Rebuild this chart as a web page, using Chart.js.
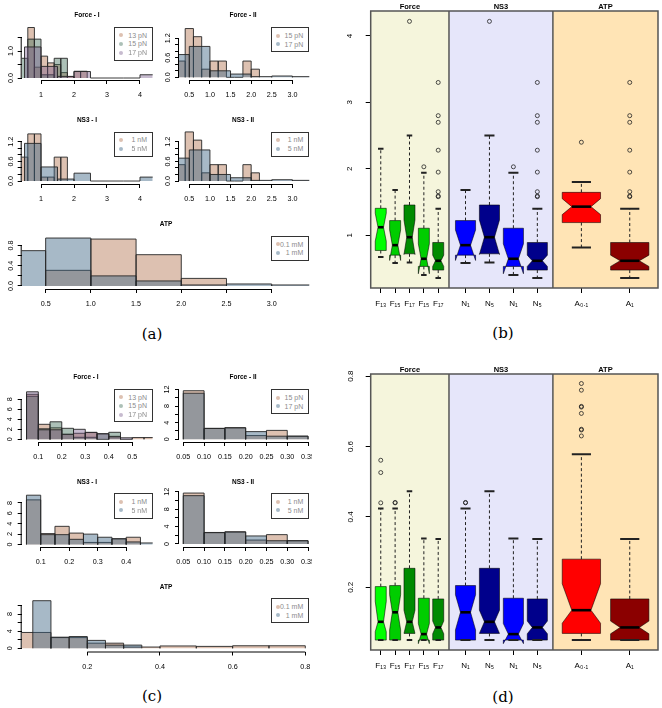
<!DOCTYPE html>
<html>
<head>
<meta charset="utf-8">
<script src="https://cdn.jsdelivr.net/npm/chart.js@4.4.1/dist/chart.umd.min.js"></script>
<style>
  body { margin: 0; background: #fff; width: 662px; height: 708px; position: relative; overflow: hidden;
         font-family: "Liberation Sans", Arial, sans-serif; }
  canvas { position: absolute; }
  .t { position: absolute; font-weight: bold; font-size: 6.5px; color: #000; transform: translate(-50%, -50%);
       white-space: nowrap; will-change: transform; -webkit-font-smoothing: antialiased; }
  .cap { position: absolute; font-family: "DejaVu Serif", "Liberation Serif", serif; font-size: 15px; transform: translate(-50%, -50%); }
  .lg { position: absolute; border: 1px solid #333; background: #fff; box-sizing: border-box; font-size: 7px; color: #8c8c8c; }
  .lg .row { position: absolute; left: 0; right: 0; height: 9px; }
  .lg .dot { position: absolute; left: 4px; top: 2.5px; width: 4px; height: 4px; border-radius: 50%; }
  .lg .txt { position: absolute; right: 5px; top: 0; line-height: 9px; white-space: nowrap; }
</style>
</head>
<body>
<script>
// ---------- histogram data: bin edges + densities ----------
// (a) Force - I
const aF1E13 = [0.6, 0.8, 1.0, 1.2, 1.4, 1.6, 1.8, 2.0, 2.2, 2.4];
const aF1D13 = [1.87, 0.40, 0.81, 0.56, 0.50, 0.20, 0.05, 0.25, 0.25];
const aF1E15 = [0.4, 0.6, 0.8, 1.0, 1.2, 1.4, 1.6, 1.8];
const aF1D15 = [0.73, 1.44, 1.44, 0.12, 0.12, 0.73, 0.73];
const aF1E17 = [0.5, 1.0, 1.5, 2.0, 2.5, 3.0, 3.5, 4.0, 4.5];
const aF1D17 = [1.15, 0.43, 0.06, 0.24, 0, 0, 0, 0.12];
// (a) Force - II
const aF2E15 = [0.2, 0.4, 0.6, 0.8, 1.0, 1.2, 1.4, 1.6, 1.8, 2.0, 2.2];
const aF2D15 = [0.5, 1.5, 1.25, 0.25, 0.5, 0.5, 0, 0, 0.5, 0.25];
const aF2E17 = [0, 0.5, 1.0, 1.5, 2.0, 2.5, 3.0, 3.5];
const aF2D17 = [0.7, 0.95, 0.2, 0.1, 0.02, 0.04, 0.02];
// (a) ATP 0.1 mM
const aAE01 = [0.5, 1.0, 1.5, 2.0, 2.5];
const aAD01 = [0.31, 0.93, 0.62, 0.15];
// (c) Force - I
const cF1E13 = [0.05, 0.1, 0.15, 0.2, 0.25, 0.3, 0.35, 0.4, 0.45, 0.5, 0.55, 0.6];
const cF1D13 = [9.0, 3.0, 2.3, 1.0, 1.2, 1.35, 0, 0.6, 0, 0.35, 0.35];
const cF1E15 = [0.05, 0.1, 0.15, 0.2, 0.25, 0.3, 0.35, 0.4, 0.45];
const cF1D15 = [8.6, 2.1, 3.5, 2.2, 0.4, 0.4, 1.1, 1.4];
const cF1E17 = [0.05, 0.1, 0.15, 0.2, 0.25, 0.3, 0.35, 0.4, 0.45, 0.5];
const cF1D17 = [9.5, 1.9, 1.9, 1.0, 2.0, 1.4, 1.1, 0.5, 0.3];
// (c) Force - II
const cF2E15 = [0.05, 0.1, 0.15, 0.2, 0.25, 0.3, 0.35];
const cF2D15 = [11.7, 2.65, 2.8, 0.9, 2.15, 0.75];
const cF2E17 = [0.05, 0.1, 0.15, 0.2, 0.25, 0.3, 0.35];
const cF2D17 = [11.1, 2.6, 2.75, 1.85, 0.75, 0.75];
// (c) ATP 0.1 mM
const cAE01 = [0, 0.1, 0.2, 0.3, 0.4, 0.5, 0.6, 0.7, 0.8];
const cAD01 = [3.7, 2.5, 1.2, 0.3, 0.55, 0.45, 0.6, 0.6];

// ---------- histogram ticks ----------
const aF1X = [1, 2, 3, 4];            const aF1XL = ['1', '2', '3', '4'];
const aF1Y = [0, 0.5, 1, 1.5];        const aF1YL = ['0.0', '', '1.0', ''];
const aF2X = [0.5, 1, 1.5, 2, 2.5, 3]; const aF2XL = ['0.5', '1.0', '1.5', '2.0', '2.5', '3.0'];
const aF2Y = [0, 0.2, 0.4, 0.6, 0.8, 1.0, 1.2]; const aF2YL = ['0.0', '', '', '0.6', '', '', '1.2'];
const aAY = [0, 0.2, 0.4, 0.6, 0.8];  const aAYL = ['0.0', '', '0.4', '', '0.8'];
const cF1X = [0.1, 0.2, 0.3, 0.4, 0.5]; const cF1XL = ['0.1', '0.2', '0.3', '0.4', '0.5'];
const cF1Y = [0, 2, 4, 6, 8];         const cF1YL = ['0', '2', '4', '6', '8'];
const cF2X = [0.05, 0.1, 0.15, 0.2, 0.25, 0.3, 0.35];
const cF2XL = ['0.05', '0.10', '0.15', '0.20', '0.25', '0.30', '0.35'];
const cF2Y = [0, 2, 4, 6, 8, 10, 12]; const cF2YL = ['0', '', '4', '', '8', '', '12'];
const cN1X = [0.1, 0.2, 0.3, 0.4];    const cN1XL = ['0.1', '0.2', '0.3', '0.4'];
const cAX = [0.2, 0.4, 0.6, 0.8];     const cAXL = ['0.2', '0.4', '0.6', '0.8'];
const cAY = [0, 2, 4, 6, 8, 10];      const cAYL = ['0', '', '4', '', '8', ''];

// ---------- boxplot data ----------
const boxLabels = ['F₁₃', 'F₁₅', 'F₁₇', 'F₁₅', 'F₁₇', 'N₁', 'N₅', 'N₁', 'N₅', 'A₀.₁', 'A₁'];
const groupNames = ['Force', 'NS3', 'ATP'];
// (b)
const bLo  = [0.67, 0.58, 0.59, 0.40, 0.355, 0.58, 0.59, 0.40, 0.355, 0.815, 0.355];
const bQ1  = [0.77, 0.70, 0.72, 0.53, 0.475, 0.70, 0.72, 0.53, 0.475, 1.19, 0.475];
const bMed = [1.12, 0.85, 0.97, 0.645, 0.615, 0.85, 0.97, 0.645, 0.615, 1.43, 0.615];
const bQ3  = [1.405, 1.22, 1.455, 1.105, 0.89, 1.22, 1.455, 1.105, 0.89, 1.645, 0.89];
const bHi  = [2.30, 1.68, 2.50, 1.94, 1.40, 1.68, 2.50, 1.94, 1.40, 1.80, 1.40];
const bNLo = [0.91, 0.62, 0.71, 0.42, 0.53, 0.62, 0.71, 0.42, 0.53, 1.31, 0.53];
const bNHi = [1.33, 1.08, 1.23, 0.87, 0.70, 1.08, 1.23, 0.87, 0.70, 1.55, 0.70];
const bOutA = [1.58, 1.59, 1.655, 1.95, 2.28, 2.70, 2.80, 3.30];
const bOut = [[], [], [4.22], [2.03], bOutA, [], [4.22], [2.03], bOutA, [2.40], bOutA];
const bYT = [1, 2, 3, 4]; const bYL = ['1', '2', '3', '4'];
// (d)
const dLo  = [0.05, 0.05, 0.05, 0.05, 0.05, 0.05, 0.05, 0.05, 0.05, 0.05, 0.05];
const dQ1  = [0.05, 0.05, 0.069, 0.05, 0.05, 0.05, 0.069, 0.05, 0.05, 0.069, 0.05];
const dMed = [0.102, 0.129, 0.102, 0.067, 0.086, 0.129, 0.102, 0.067, 0.086, 0.135, 0.086];
const dQ3  = [0.202, 0.205, 0.254, 0.169, 0.167, 0.205, 0.254, 0.169, 0.167, 0.280, 0.167];
const dHi  = [0.424, 0.424, 0.473, 0.339, 0.337, 0.424, 0.473, 0.339, 0.337, 0.578, 0.337];
const dNLo = [0.074, 0.079, 0.069, 0.04, 0.068, 0.079, 0.069, 0.04, 0.068, 0.098, 0.068];
const dNHi = [0.16, 0.179, 0.135, 0.097, 0.104, 0.179, 0.135, 0.097, 0.104, 0.21, 0.104];
const dOut = [[0.44, 0.526, 0.561], [0.44, 0.441], [], [], [], [0.44, 0.441], [], [], [],
              [0.63, 0.647, 0.649, 0.694, 0.712, 0.714, 0.76, 0.779], []];
const dYT = [0.2, 0.4, 0.6, 0.8]; const dYL = ['0.2', '0.4', '0.6', '0.8'];

// ---------- layout / style ----------
const boxAt = [0.42, 1.02, 1.62, 2.22, 2.82, 3.96, 4.96, 5.96, 6.96, 8.8, 10.82];
const boxWidth = [0.46, 0.46, 0.46, 0.46, 0.46, 0.84, 0.84, 0.84, 0.84, 1.6, 1.6];
const groupEdges = [0, 3.27, 7.61, 12];
const groupBg = ['#F5F5DC', '#E6E6FA', '#FFE4B5'];
const boxCol = ['#00FF00', '#00CD00', '#008B00', '#00CD00', '#008B00',
                '#0000FF', '#00008B', '#0000FF', '#00008B', '#FF0000', '#8B0000'];
const FILL = {
  tan: 'rgba(170,100,60,0.4)', blue: 'rgba(60,100,130,0.45)',
  green: 'rgba(70,115,95,0.45)', purple: 'rgba(115,85,135,0.4)'
};

Chart.defaults.font.family = '"Liberation Sans", Arial, sans-serif';
Chart.defaults.color = '#000';

const hists = [
  { title: 'Force - I', tx: 87, ty: 14, area: [21.7, 24, 152.7, 80], xr: [0.415, 4.385], yr: [-0.074, 2.0],
    xt: aF1X, xl: aF1XL, yt: aF1Y, yl: aF1YL, pal: ['tan', 'green', 'purple'], lg: [114, 27, 153, 61],
    ser: [['13 pN', aF1E13, aF1D13], ['15 pN', aF1E15, aF1D15], ['17 pN', aF1E17, aF1D17]] },
  { title: 'Force - II', tx: 243, ty: 14, area: [179, 24, 309.3, 80], xr: [0.25, 3.41], yr: [-0.083, 1.64],
    xt: aF2X, xl: aF2XL, yt: aF2Y, yl: aF2YL, pal: ['tan', 'blue'], lg: [270.7, 27.3, 309.3, 52.3],
    ser: [['15 pN', aF2E15, aF2D15], ['17 pN', aF2E17, aF2D17]] },
  { title: 'NS3 - I', tx: 87, ty: 119, area: [21.7, 128, 152.7, 184], xr: [0.415, 4.385], yr: [-0.091, 1.62],
    xt: aF1X, xl: aF1XL, yt: aF2Y, yl: aF2YL, pal: ['tan', 'blue'], lg: [114, 131.7, 153, 156.7],
    ser: [['1 nM', aF1E15, aF1D15], ['5 nM', aF1E17, aF1D17]] },
  { title: 'NS3 - II', tx: 243, ty: 119, area: [179, 128, 309.3, 184], xr: [0.25, 3.41], yr: [-0.091, 1.62],
    xt: aF2X, xl: aF2XL, yt: aF2Y, yl: aF2YL, pal: ['tan', 'blue'], lg: [270.7, 131.7, 309.3, 156.7],
    ser: [['1 nM', aF2E15, aF2D15], ['5 nM', aF2E17, aF2D17]] },
  { title: 'ATP', tx: 165.7, ty: 223.3, area: [21.7, 233, 309.3, 289], xr: [0.235, 3.416], yr: [-0.06, 1.05],
    xt: aF2X, xl: aF2XL, yt: aAY, yl: aAYL, pal: ['tan', 'blue'], lg: [270.7, 236, 309.3, 261],
    ser: [['0.1 mM', aAE01, aAD01], ['1 mM', aF2E17, aF2D17]] },
  { title: 'Force - I', tx: 86, ty: 376, area: [21.7, 386, 152.7, 442], xr: [0.0294, 0.587], yr: [-0.54, 10.66],
    xt: cF1X, xl: cF1XL, yt: cF1Y, yl: cF1YL, pal: ['tan', 'green', 'purple'], lg: [114, 389, 153, 421.7],
    ser: [['13 pN', cF1E13, cF1D13], ['15 pN', cF1E15, cF1D15], ['17 pN', cF1E17, cF1D17]] },
  { title: 'Force - II', tx: 243, ty: 376, area: [179, 386, 309.3, 442], xr: [0.0397, 0.353], yr: [-0.65, 12.84],
    xt: cF2X, xl: cF2XL, yt: cF2Y, yl: cF2YL, pal: ['tan', 'blue'], lg: [270.7, 389.3, 309.3, 414.3],
    ser: [['15 pN', cF2E15, cF2D15], ['17 pN', cF2E17, cF2D17]] },
  { title: 'NS3 - I', tx: 87, ty: 480.7, area: [21.7, 490, 152.7, 547], xr: [0.0333, 0.493], yr: [-0.48, 10.5],
    xt: cN1X, xl: cN1XL, yt: cF1Y, yl: cF1YL, pal: ['tan', 'blue'], lg: [114, 493.3, 153, 519],
    ser: [['1 nM', cF1E15, cF1D15], ['5 nM', cF1E17, cF1D17]] },
  { title: 'NS3 - II', tx: 243, ty: 480.7, area: [179, 490, 309.3, 547], xr: [0.0397, 0.353], yr: [-0.69, 12.4],
    xt: cF2X, xl: cF2XL, yt: cF2Y, yl: cF2YL, pal: ['tan', 'blue'], lg: [270.7, 493.3, 309.3, 519],
    ser: [['1 nM', cF2E15, cF2D15], ['5 nM', cF2E17, cF2D17]] },
  { title: 'ATP', tx: 165.7, ty: 586, area: [21.7, 596, 309.3, 651.5], xr: [0.0195, 0.811], yr: [-0.74, 12.2],
    xt: cAX, xl: cAXL, yt: cAY, yl: cAYL, pal: ['tan', 'blue'], lg: [270.7, 598.3, 309.3, 623.3],
    ser: [['0.1 mM', cAE01, cAD01], ['1 mM', cF2E17, cF2D17]] }
];

// histogram outline as a stepped line: every bin drops back to 0
function steps(edges, dens) {
  const pts = [];
  dens.forEach((d, i) => { pts.push({ x: edges[i], y: 0 }, { x: edges[i], y: d }); });
  pts.push({ x: edges[edges.length - 1], y: 0 });
  return pts;
}

// R style axis lines: only from the first to the last tick
const rAxis = {
  id: 'rAxis',
  afterDraw(chart) {
    const { ctx, chartArea: a, scales: { x, y } } = chart;
    const xt = x.ticks, yt = y.ticks;
    ctx.save();
    ctx.strokeStyle = '#000';
    ctx.lineWidth = 1;
    ctx.beginPath();
    ctx.moveTo(x.getPixelForValue(xt[0].value), a.bottom + 0.5);
    ctx.lineTo(x.getPixelForValue(xt[xt.length - 1].value), a.bottom + 0.5);
    ctx.moveTo(a.left - 0.5, y.getPixelForValue(yt[0].value));
    ctx.lineTo(a.left - 0.5, y.getPixelForValue(yt[yt.length - 1].value));
    ctx.stroke();
    ctx.restore();
  }
};

function addDiv(cls, x, y, text) {
  const d = document.createElement('div');
  d.className = cls;
  d.style.left = x + 'px';
  d.style.top = y + 'px';
  d.textContent = text;
  document.body.appendChild(d);
}

function addLegend(box, items) {
  const d = document.createElement('div');
  d.className = 'lg';
  d.style.left = box[0] + 'px';
  d.style.top = box[1] + 'px';
  d.style.width = (box[2] - box[0]) + 'px';
  d.style.height = (box[3] - box[1]) + 'px';
  items.forEach((it, i) => {
    const r = document.createElement('div');
    r.className = 'row';
    r.style.top = (2.8 + i * 8.6) + 'px';
    r.innerHTML = '<span class="dot" style="background:' + it[1] + '"></span><span class="txt">' + it[0] + '</span>';
    d.appendChild(r);
  });
  document.body.appendChild(d);
}

function drawHist(h) {
  const [l, t, r, b] = h.area;
  const cl = Math.floor(l - 22), ct = Math.floor(t - 3), cr = Math.ceil(r + 2), cb = Math.ceil(b + 24);
  const cv = document.createElement('canvas');
  cv.width = cr - cl;
  cv.height = cb - ct;
  cv.style.left = cl + 'px';
  cv.style.top = ct + 'px';
  document.body.appendChild(cv);
  const n = h.ser.length;
  const maxChars = Math.max(...h.yl.map(s => s.length));

  new Chart(cv, {
    type: 'line',
    data: {
      datasets: h.ser.map((s, i) => ({
        label: s[0],
        data: steps(s[1], s[2]),
        stepped: 'before',
        fill: 'origin',
        backgroundColor: FILL[h.pal[i]],
        borderColor: '#262626',
        borderWidth: 0.9,
        pointRadius: 0,
        order: n - i
      }))
    },
    options: {
      responsive: false,
      devicePixelRatio: 1,
      animation: false,
      layout: { autoPadding: false, padding: { left: 0, top: t - ct, right: cr - r, bottom: 0 } },
      plugins: { legend: { display: false }, tooltip: { enabled: false } },
      scales: {
        x: {
          type: 'linear', min: h.xr[0], max: h.xr[1],
          afterBuildTicks: s => { s.ticks = h.xt.map(v => ({ value: v })); },
          afterFit: s => { s.height = cb - b; s.paddingLeft = 0; s.paddingRight = 0; },
          ticks: { callback: (v, i) => h.xl[i], autoSkip: false, maxRotation: 0, font: { size: 7.2 }, padding: 7 },
          grid: { drawOnChartArea: false, tickLength: 4, color: '#000' },
          border: { display: false }
        },
        y: {
          type: 'linear', min: h.yr[0], max: h.yr[1],
          afterBuildTicks: s => { s.ticks = h.yt.map(v => ({ value: v })); },
          afterFit: s => { s.width = l - cl; s.paddingTop = 0; s.paddingBottom = 0; },
          ticks: { callback: (v, i) => h.yl[i], autoSkip: false, minRotation: 90, maxRotation: 90,
                   crossAlign: 'center', padding: Math.max(1, 8 - 2 * maxChars), font: { size: 7.2 } },
          grid: { drawOnChartArea: false, tickLength: 4, color: '#000' },
          border: { display: false }
        }
      }
    },
    plugins: [rAxis]
  });

  addDiv('t', h.tx, h.ty, h.title);
  addLegend(h.lg, h.ser.map((s, i) => [s[0], FILL[h.pal[i]]]));
}

function boxPlugin(st) {
  return {
    id: 'rbox',
    beforeDatasetsDraw(chart) {
      const { ctx, chartArea: a, scales: { x, y } } = chart;
      const X = v => x.getPixelForValue(v), Y = v => y.getPixelForValue(v);
      ctx.save();
      groupNames.forEach((g, i) => {
        ctx.fillStyle = groupBg[i];
        ctx.fillRect(X(groupEdges[i]), a.top, X(groupEdges[i + 1]) - X(groupEdges[i]), a.bottom - a.top);
      });
      boxAt.forEach((cx, i) => {
        const w = boxWidth[i] / 2;
        const poly = [[cx - w, st.q1[i]], [cx - w, st.nlo[i]], [cx - w / 2, st.med[i]], [cx - w, st.nhi[i]],
                      [cx - w, st.q3[i]], [cx + w, st.q3[i]], [cx + w, st.nhi[i]], [cx + w / 2, st.med[i]],
                      [cx + w, st.nlo[i]], [cx + w, st.q1[i]]];
        ctx.beginPath();
        poly.forEach(([px, py], k) => k ? ctx.lineTo(X(px), Y(py)) : ctx.moveTo(X(px), Y(py)));
        ctx.closePath();
        ctx.fillStyle = boxCol[i];
        ctx.fill();
        ctx.lineWidth = 1;
        ctx.strokeStyle = 'rgba(0,0,0,0.55)';
        ctx.stroke();
        // whiskers
        ctx.strokeStyle = '#222';
        ctx.setLineDash([3, 2.5]);
        ctx.beginPath();
        ctx.moveTo(X(cx), Y(st.q3[i])); ctx.lineTo(X(cx), Y(st.hi[i]));
        ctx.moveTo(X(cx), Y(st.q1[i])); ctx.lineTo(X(cx), Y(st.lo[i]));
        ctx.stroke();
        ctx.setLineDash([]);
        ctx.lineWidth = 2;
        ctx.beginPath();
        [st.hi[i], st.lo[i]].forEach(v => { ctx.moveTo(X(cx - w / 2), Y(v)); ctx.lineTo(X(cx + w / 2), Y(v)); });
        ctx.stroke();
        // median
        ctx.lineWidth = 2.6;
        ctx.strokeStyle = '#000';
        ctx.beginPath();
        ctx.moveTo(X(cx - w / 2), Y(st.med[i])); ctx.lineTo(X(cx + w / 2), Y(st.med[i]));
        ctx.stroke();
      });
      ctx.strokeStyle = '#555';
      ctx.lineWidth = 1.5;
      ctx.beginPath();
      groupEdges.slice(1, -1).forEach(e => { ctx.moveTo(X(e), a.top); ctx.lineTo(X(e), a.bottom); });
      ctx.stroke();
      ctx.strokeRect(a.left, a.top, a.right - a.left, a.bottom - a.top);
      ctx.fillStyle = '#000';
      ctx.font = 'bold 7.5px "Liberation Sans", Arial, sans-serif';
      ctx.textAlign = 'center';
      ctx.textBaseline = 'middle';
      groupNames.forEach((g, i) => ctx.fillText(g, X((groupEdges[i] + groupEdges[i + 1]) / 2), a.top - 4.5));
      ctx.restore();
    }
  };
}

function drawBox(top, height, padTop, yr, yt, yl, ypad, st) {
  const cv = document.createElement('canvas');
  cv.width = 332;
  cv.height = height;
  cv.style.left = '330px';
  cv.style.top = top + 'px';
  document.body.appendChild(cv);
  const pts = [];
  st.out.forEach((arr, i) => arr.forEach(v => pts.push({ x: boxAt[i], y: v })));

  new Chart(cv, {
    type: 'scatter',
    data: {
      datasets: [{
        data: pts, pointRadius: 2, pointStyle: 'circle',
        borderColor: '#222', borderWidth: 0.8, backgroundColor: 'rgba(0,0,0,0)'
      }]
    },
    options: {
      responsive: false,
      devicePixelRatio: 1,
      animation: false,
      layout: { autoPadding: false, padding: { left: 0, top: padTop, right: 4, bottom: 0 } },
      plugins: { legend: { display: false }, tooltip: { enabled: false } },
      scales: {
        x: {
          type: 'linear', min: 0, max: 12,
          afterBuildTicks: s => { s.ticks = boxAt.map(v => ({ value: v })); },
          afterFit: s => { s.height = 32; s.paddingLeft = 0; s.paddingRight = 0; },
          ticks: { callback: (v, i) => boxLabels[i], autoSkip: false, minRotation: 0, maxRotation: 0,
                   font: { size: 8 }, padding: 6 },
          grid: { drawOnChartArea: false, tickLength: 5, color: '#000' },
          border: { display: false }
        },
        y: {
          type: 'linear', min: yr[0], max: yr[1],
          afterBuildTicks: s => { s.ticks = yt.map(v => ({ value: v })); },
          afterFit: s => { s.width = 40.7; s.paddingTop = 0; s.paddingBottom = 0; },
          ticks: { callback: (v, i) => yl[i], autoSkip: false, minRotation: 90, maxRotation: 90,
                   crossAlign: 'center', padding: ypad, font: { size: 8 } },
          grid: { drawOnChartArea: false, tickLength: 5, color: '#000' },
          border: { display: false }
        }
      }
    },
    plugins: [boxPlugin(st)]
  });
}

hists.forEach(drawHist);

drawBox(0, 320, 11, [0.205, 4.376], bYT, bYL, 14,
  { lo: bLo, q1: bQ1, med: bMed, q3: bQ3, hi: bHi, nlo: bNLo, nhi: bNHi, out: bOut });
drawBox(360, 322, 14, [0.0219, 0.806], dYT, dYL, 9,
  { lo: dLo, q1: dQ1, med: dMed, q3: dQ3, hi: dHi, nlo: dNLo, nhi: dNHi, out: dOut });

addDiv('cap', 152, 334, '(a)');
addDiv('cap', 503, 333, '(b)');
addDiv('cap', 152, 695.5, '(c)');
addDiv('cap', 503, 696.5, '(d)');
</script>
</body>
</html>
